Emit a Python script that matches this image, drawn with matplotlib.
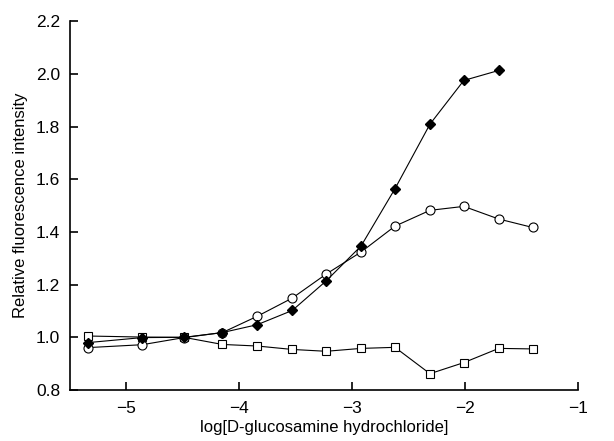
import matplotlib
matplotlib.use("Agg")
import matplotlib.pyplot as plt

x = [-5.34, -4.86, -4.49, -4.15, -3.84, -3.53, -3.23, -2.92, -2.62, -2.31, -2.01, -1.70, -1.40]
diamond = [0.980, 0.999, 1.000, 1.018, 1.048, 1.102, 1.214, 1.347, 1.564, 1.809, 1.975, 2.013]
circle = [0.961, 0.972, 0.999, 1.018, 1.080, 1.149, 1.240, 1.324, 1.422, 1.482, 1.497, 1.449, 1.417]
square = [1.005, 1.001, 1.000, 0.973, 0.967, 0.954, 0.947, 0.958, 0.962, 0.862, 0.904, 0.958, 0.956]
xticks = [-5, -4, -3, -2, -1]
yticks = [0.8, 1.0, 1.2, 1.4, 1.6, 1.8, 2.0, 2.2]

plt.rcParams['font.family'] = ['Liberation Sans', 'DejaVu Sans']
fig = plt.figure(figsize=(6.14, 4.41), dpi=100)
ax = fig.add_axes([0.114, 0.1156, 0.827, 0.8364])

ax.plot(x, square, color='black', lw=0.8, marker='s', ms=6, mfc='white', mec='black', mew=0.8, zorder=2)
ax.plot(x, circle, color='black', lw=0.8, marker='o', ms=6.5, mfc='white', mec='black', mew=0.8, zorder=3)
ax.plot(x[:len(diamond)], diamond, color='black', lw=0.8, marker='D', ms=5, mfc='black', mec='black', zorder=4)

ax.set_xlim(-5.5, -1)
ax.set_ylim(0.8, 2.2)
ax.set_xticks(xticks)
ax.set_yticks(yticks)
ax.set_yticklabels([f"{v:.1f}" for v in yticks])
ax.spines['top'].set_visible(False)
ax.spines['right'].set_visible(False)
ax.spines['left'].set_linewidth(1.2)
ax.spines['bottom'].set_linewidth(1.2)
ax.tick_params(direction='in', length=6, width=1.2, labelsize=12.5)
ax.tick_params(axis='y', pad=7)
ax.tick_params(axis='x', pad=8)
ax.set_xlabel('log[D-glucosamine hydrochloride]', fontsize=12, labelpad=3)
ax.set_ylabel('Relative fluorescence intensity', fontsize=12, labelpad=6)

fig.savefig('out.png', dpi=100)
